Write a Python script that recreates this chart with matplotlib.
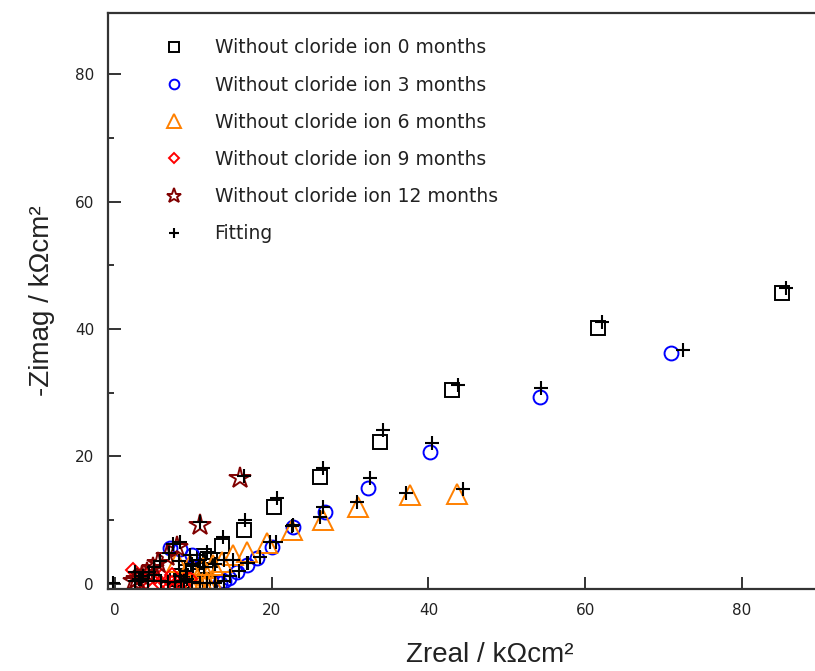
import matplotlib.pyplot as plt
from matplotlib.ticker import MultipleLocator

# ===================================
# Data
# ===================================

labels = ["Without cloride ion 0 months", "Without cloride ion 3 months",
          "Without cloride ion 6 months", "Without cloride ion 9 months",
          "Without cloride ion 12 months"]

# 0 months (squares)
x_m0 = [85.1, 61.7, 43.0, 33.8, 26.2, 20.3, 16.4, 13.6, 11.3, 12.1, 10.6, 11.6, 9.8,
        9.0, 8.4, 7.9, 8.5, 9.4, 10.3, 11.2, 12.1, 13.0]
y_m0 = [45.7, 40.2, 30.5, 22.3, 16.8, 12.1, 8.5, 5.9, 4.4, 3.7, 3.5, 2.8, 2.4,
        1.8, 1.3, 0.8, 0.4, 0.3, 0.2, 0.2, 0.2, 0.2]
fx_m0 = [85.6, 62.2, 43.8, 34.2, 26.6, 20.7, 16.6, 13.8, 11.8, 10.9, 9.9, 9.0, 8.3,
         8.8, 9.8, 10.8, 11.8, 12.8]
fy_m0 = [46.5, 41.1, 31.2, 24.2, 18.2, 13.5, 10.0, 7.4, 5.0, 3.8, 2.8, 2.0, 1.2,
         0.5, 0.3, 0.2, 0.2, 0.2]

# 3 months (circles)
x_m3 = [71.0, 54.3, 40.2, 32.3, 26.8, 22.7, 20.0, 18.1, 16.8, 15.6, 14.6, 13.9, 13.4,
        7.0, 8.3, 9.8]
y_m3 = [36.3, 29.4, 20.7, 15.1, 11.3, 8.9, 5.8, 4.1, 2.9, 1.8, 1.0, 0.4, 0.1,
        5.7, 5.4, 4.5]
fx_m3 = [72.5, 54.4, 40.4, 32.6, 26.6, 22.6, 20.5, 18.5, 17.0, 15.8, 14.7, 13.9,
         7.4, 9.6]
fy_m3 = [36.7, 30.8, 22.1, 16.6, 12.1, 9.1, 6.5, 4.2, 3.3, 2.1, 1.2, 0.5,
         6.2, 4.6]

# 6 months (triangles)
x_m6 = [43.7, 37.6, 31.0, 26.6, 22.6, 19.4, 16.8, 15.1, 13.7, 12.5, 11.2, 9.6, 7.9,
        8.8, 9.4, 10.0, 10.6, 11.2, 11.8, 12.4]
y_m6 = [14.1, 14.0, 12.1, 10.0, 8.5, 6.4, 5.0, 4.6, 3.5, 3.0, 2.5, 3.0, 3.5,
        0.5, 0.3, 0.2, 0.2, 0.2, 0.3, 0.4]
fx_m6 = [44.4, 37.2, 30.9, 26.2, 22.7, 19.8, 16.9, 15.1, 13.9, 12.7, 11.4, 9.8, 8.2]
fy_m6 = [14.9, 14.3, 12.9, 10.5, 9.3, 6.6, 3.3, 3.8, 3.8, 3.2, 2.6, 3.1, 3.6]

# 9 months (diamonds)
x_m9 = [2.3, 3.0, 3.4, 4.0, 4.5, 5.1, 5.7, 6.5, 7.3, 8.0, 8.8, 9.6, 6.0, 7.3]
y_m9 = [2.2, 1.0, 0.6, 0.3, 1.7, 1.1, 0.1, 0.2, 0.2, 0.3, 0.5, 0.8, 1.2, 1.4]
fx_m9 = [-0.2, 2.6, 3.3, 4.2, 5.0, 5.9, 6.8, 7.6, 8.4, 9.2]
fy_m9 = [0.1, 1.8, 0.8, 0.4, 1.4, 0.4, 0.3, 0.3, 0.4, 0.7]

# 12 months (stars)
x_m12 = [16.0, 10.8, 7.9, 6.6, 5.5, 4.8, 4.1, 3.4, 2.8, 2.4]
y_m12 = [16.6, 9.3, 5.8, 4.4, 3.3, 2.5, 1.7, 1.2, 0.8, 0.4]
fx_m12 = [16.5, 10.9, 8.3, 6.9, 5.8, 5.0, 4.3, 3.6, 3.0, 2.6]
fy_m12 = [17.0, 9.7, 6.5, 4.8, 3.6, 2.7, 1.9, 1.3, 0.8, 0.4]


# ===================================
# Plotting
# ===================================

plt.rcParams['font.family'] = ['DejaVu Sans']

fig = plt.figure(figsize=(8.15, 6.71), dpi=100)
# the right side of the frame runs past the figure edge, as in the reference
ax = fig.add_axes([108 / 815, 82 / 671, 763 / 815, 576 / 671])

series = [
    (x_m0, y_m0, 's', 10, 'black'),
    (x_m3, y_m3, 'o', 10, '#0000ff'),
    (x_m6, y_m6, '^', 15, '#ff8000'),
    (x_m9, y_m9, 'D', 7, '#ff0000'),
    (x_m12, y_m12, '*', 16, '#800000'),
]
for (xs, ys, mk, ms, col), lab in zip(series, labels):
    ax.plot(xs, ys, linestyle='none', marker=mk, markersize=ms, markerfacecolor='none',
            markeredgecolor=col, markeredgewidth=1.4, label=lab)

fit_x = fx_m0 + fx_m3 + fx_m6 + fx_m9 + fx_m12
fit_y = fy_m0 + fy_m3 + fy_m6 + fy_m9 + fy_m12
ax.plot(fit_x, fit_y, linestyle='none', marker='+', markersize=10, color='black',
        markeredgewidth=1.5, label='Fitting')

ax.set_xlim(-0.9, 96.5)
ax.set_ylim(-0.8, 89.6)
ax.xaxis.set_major_locator(MultipleLocator(20))
ax.yaxis.set_major_locator(MultipleLocator(20))
ax.yaxis.set_minor_locator(MultipleLocator(10))
ax.tick_params(which='both', direction='in', top=False, right=False, labelsize=11,
               colors='#333333', labelcolor='#222222', width=1.4)
ax.tick_params(which='major', length=9, pad=10)
ax.tick_params(which='minor', length=4)
for sp in ax.spines.values():
    sp.set_linewidth(1.6)
    sp.set_color('#333333')

ax.set_xlabel('Zreal / k\u03a9cm\u00b2', fontsize=20, family='Liberation Sans',
              color='#222222', labelpad=17)
ax.set_ylabel('-Zimag / k\u03a9cm\u00b2', fontsize=20, family='Liberation Sans',
              color='#222222', labelpad=14)

leg = ax.legend(loc='upper left', bbox_to_anchor=(0.058, 0.969), frameon=False,
                fontsize=13.5, markerscale=0.7, labelspacing=0.97, handlelength=1.5,
                handletextpad=1.42, borderaxespad=0)
for t in leg.get_texts():
    t.set_color('#222222')

plt.savefig('out.png', dpi=100)
